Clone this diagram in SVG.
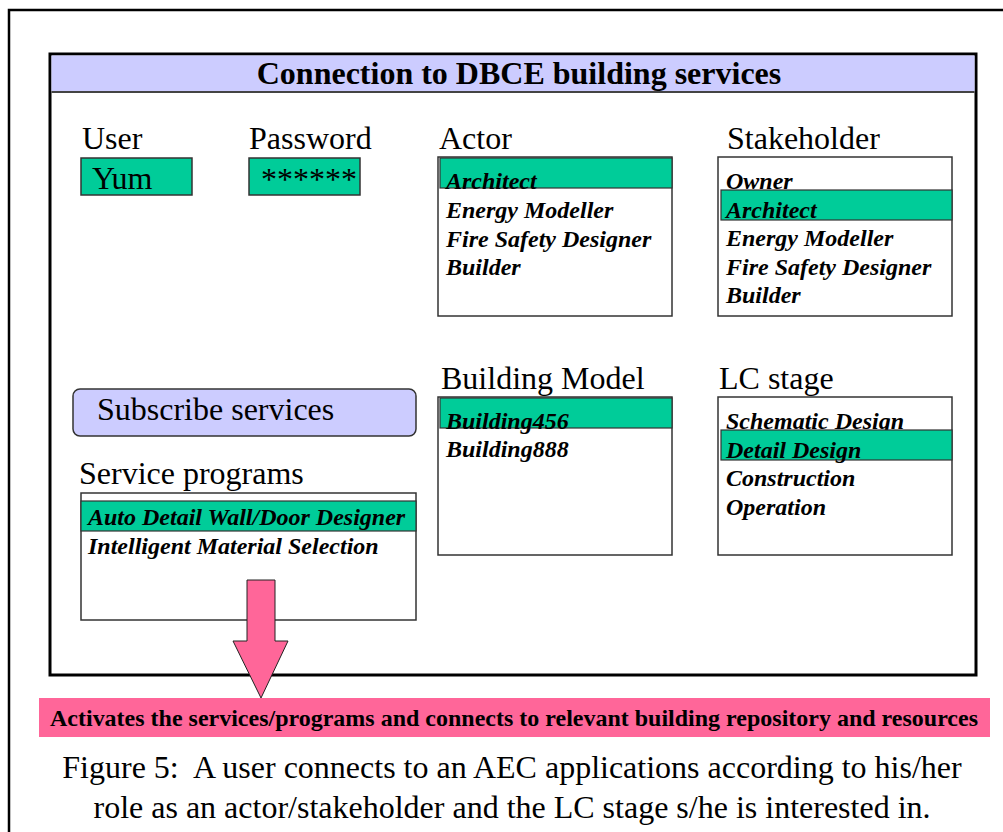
<svg xmlns="http://www.w3.org/2000/svg" width="1003" height="832" viewBox="0 0 1003 832">
  <style>
    text { font-family: "Liberation Serif", "Times New Roman", serif; fill: #000; }
    .lbl { font-size: 32px; }
    .head { font-size: 32px; font-weight: bold; }
    .item { font-size: 24px; font-weight: bold; font-style: italic; }
    .field { fill: #00CC99; stroke: #333; stroke-width: 1.5; }
    .list { fill: #fff; stroke: #333; stroke-width: 1.5; }
    .sel { fill: #00CC99; stroke: #333; stroke-width: 1.2; }
    .pink { fill: #FF6699; }
  </style>

  <!-- page frame -->
  <rect x="0" y="0" width="1003" height="832" fill="#fff"/>
  <path d="M9,832 V10 H1003" fill="none" stroke="#000" stroke-width="2.5"/>

  <!-- main panel -->
  <g id="panel">
    <rect x="50" y="54" width="926" height="621" fill="#fff" stroke="#000" stroke-width="3"/>
    <rect x="51.5" y="55.5" width="923" height="36" fill="#CCCCFF"/>
    <line x1="51.5" y1="92" x2="974.5" y2="92" stroke="#444" stroke-width="2"/>
    <text class="head" x="519" y="84" text-anchor="middle">Connection to DBCE building services</text>
  </g>

  <g id="user">
    <text class="lbl" x="82" y="149">User</text>
    <rect class="field" x="81" y="158" width="111" height="37"/>
    <text class="lbl" x="92" y="189">Yum</text>
  </g>

  <g id="password">
    <text class="lbl" x="249" y="149">Password</text>
    <rect class="field" x="249" y="158" width="111" height="37"/>
    <text class="lbl" x="261" y="190">******</text>
  </g>

  <g id="actor">
    <text class="lbl" x="439" y="149">Actor</text>
    <rect class="list" x="438" y="157" width="234" height="159"/>
    <rect class="sel" x="440" y="158" width="232" height="30"/>
    <text class="item" x="446" y="189">Architect</text>
    <text class="item" x="446" y="218">Energy Modeller</text>
    <text class="item" x="446" y="247">Fire Safety Designer</text>
    <text class="item" x="446" y="275">Builder</text>
  </g>

  <g id="stakeholder">
    <text class="lbl" x="727" y="149">Stakeholder</text>
    <rect class="list" x="718" y="157" width="234" height="159"/>
    <text class="item" x="726" y="189">Owner</text>
    <rect class="sel" x="721" y="190" width="231" height="30"/>
    <text class="item" x="726" y="218">Architect</text>
    <text class="item" x="726" y="246">Energy Modeller</text>
    <text class="item" x="726" y="275">Fire Safety Designer</text>
    <text class="item" x="726" y="303">Builder</text>
  </g>

  <g id="building-model">
    <text class="lbl" x="441" y="389">Building Model</text>
    <rect class="list" x="438" y="397" width="234" height="158"/>
    <rect class="sel" x="440" y="398" width="232" height="30"/>
    <text class="item" x="446" y="429">Building456</text>
    <text class="item" x="446" y="457">Building888</text>
  </g>

  <g id="lc-stage">
    <text class="lbl" x="719" y="389">LC stage</text>
    <rect class="list" x="718" y="397" width="234" height="158"/>
    <text class="item" x="726" y="429">Schematic Design</text>
    <rect class="sel" x="721" y="430" width="231" height="30"/>
    <text class="item" x="726" y="458">Detail Design</text>
    <text class="item" x="726" y="486">Construction</text>
    <text class="item" x="726" y="515">Operation</text>
  </g>

  <g id="subscribe">
    <rect x="73" y="389" width="343" height="47" rx="7" fill="#CCCCFF" stroke="#333" stroke-width="1.5"/>
    <text class="lbl" x="97" y="420">Subscribe services</text>
  </g>

  <g id="service-programs">
    <text class="lbl" x="79" y="484">Service programs</text>
    <rect class="list" x="81" y="493" width="335" height="127"/>
    <rect class="sel" x="81" y="501" width="335" height="30"/>
    <text class="item" x="88" y="525">Auto Detail Wall/Door Designer</text>
    <text class="item" x="88" y="554">Intelligent Material Selection</text>
  </g>

  <g id="connectors">
    <path class="pink" d="M247,580 H275 V641 H288 L261,698 L233,641 H247 Z" stroke="#222" stroke-width="1"/>
  </g>

  <g id="result">
    <rect class="pink" x="39" y="698" width="951" height="39"/>
    <text x="514" y="726" text-anchor="middle" font-size="23" font-weight="bold" textLength="928" lengthAdjust="spacingAndGlyphs">Activates the services/programs and connects to relevant building repository and resources</text>
  </g>

  <g id="caption">
    <text x="512" y="778" text-anchor="middle" font-size="32">Figure 5:&#160; A user connects to an AEC applications according to his/her</text>
    <text x="512" y="818" text-anchor="middle" font-size="32">role as an actor/stakeholder and the LC stage s/he is interested in.</text>
  </g>
</svg>
